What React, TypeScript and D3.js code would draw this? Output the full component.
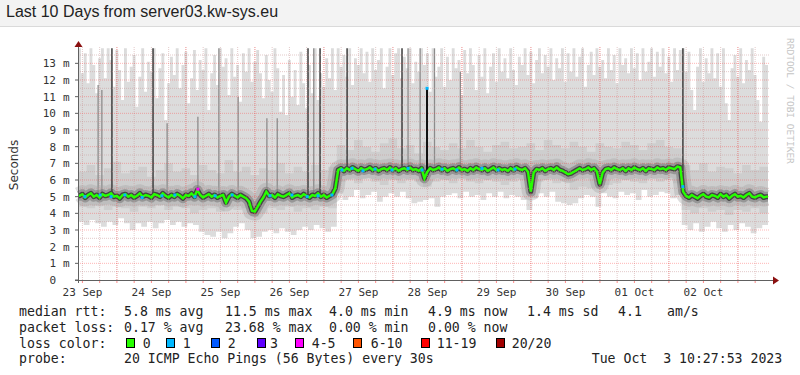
import * as d3 from 'd3'

// SmokePing style 10 day latency graph: grey smoke bands, loss coloured median.

const START = new Date(2023, 8, 23, 10, 27, 53)
const HOURS = 240
const END = d3.timeHour.offset(START, HOURS)

// median rtt in ms, one value per hour
const medianStep = 1
const medianMs = [
  5.05, 5.15, 4.95, 5.1, 5.2, 5.0, 5.1, 4.95, 5.15, 5.05,
  5.1, 5.2, 5.0, 5.05, 4.9, 5.1, 5.15, 5.0, 5.1, 4.95,
  5.05, 5.2, 5.0, 5.1, 5.05, 4.95, 5.15, 5.1, 5.0, 5.2,
  5.05, 4.95, 5.1, 5.0, 5.15, 5.05, 4.9, 5.1, 5.05, 5.2,
  5.0, 5.4, 5.1, 4.95, 5.05, 5.15, 5.0, 5.1, 4.95, 5.05,
  5.1, 4.65, 5.0, 5.15, 5.05, 4.95, 5.1, 5.0, 4.9, 4.7,
  4.15, 4.1, 4.4, 4.7, 4.95, 5.3, 5.05, 5.1, 4.95, 5.15,
  5.05, 5.0, 5.1, 5.2, 4.95, 5.05, 5.1, 5.0, 5.15, 5.05,
  4.95, 5.1, 5.05, 5.2, 5.0, 5.1, 4.95, 5.05, 5.15, 5.5,
  6.6, 6.7, 6.55, 6.7, 6.6, 6.75, 6.65, 6.55, 6.7, 6.6,
  6.65, 6.75, 6.6, 6.7, 6.55, 6.65, 6.7, 6.6, 6.75, 6.6,
  6.7, 6.55, 6.65, 6.7, 6.6, 6.75, 6.6, 6.65, 6.55, 6.7,
  6.1, 6.5, 6.7, 6.6, 6.65, 6.75, 6.6, 6.7, 6.55, 6.65,
  6.7, 6.6, 6.75, 6.6, 6.65, 6.55, 6.7, 6.6, 6.75, 6.65,
  6.6, 6.7, 6.55, 6.65, 6.75, 6.6, 6.7, 6.6, 6.65, 6.55,
  6.7, 6.6, 6.75, 6.65, 6.6, 6.7, 6.5, 5.3, 6.45, 6.65,
  6.6, 6.7, 6.55, 6.65, 6.7, 6.6, 6.75, 6.6, 6.55, 6.45,
  6.35, 6.4, 6.5, 6.6, 6.7, 6.6, 6.65, 6.75, 6.6, 6.7,
  6.5, 5.75, 6.45, 6.65, 6.7, 6.6, 6.75, 6.65, 6.6, 6.7,
  6.55, 6.7, 6.6, 6.75, 6.65, 6.6, 6.7, 6.55, 6.7, 6.65,
  6.6, 6.75, 6.65, 6.7, 6.6, 6.75, 6.7, 6.65, 6.8, 6.75,
  5.3, 5.05, 4.95, 5.1, 5.0, 4.9, 5.05, 5.15, 5.0, 4.95,
  5.1, 5.05, 4.95, 5.15, 5.0, 5.1, 4.9, 5.05, 5.15, 5.0,
  5.05, 4.95, 5.1, 5.2, 5.0, 4.95, 5.05, 5.1, 4.95, 5.0,
]

// fastest ping per 2 h
const minStep = 2
const pingMin = [
  3.5, 3.3, 3.6, 3.4, 3.2, 3.5, 3.3, 3.7, 3.4, 3.0,
  3.4, 3.2, 3.5, 3.1, 3.4, 3.6, 3.3, 3.5, 3.2, 3.4,
  3.3, 2.9, 2.7, 2.6, 2.9, 2.5, 2.8, 3.2, 3.4, 3.0,
  2.5, 2.6, 2.9, 3.0, 2.8, 3.1, 2.9, 2.7, 3.0, 3.2,
  3.0, 3.3, 3.1, 2.9, 3.2,
  5.2, 4.8, 5.0, 5.4, 4.9, 5.1, 5.3, 4.7, 5.0, 5.2,
  5.0, 5.3, 4.9, 4.6, 4.7, 4.8, 4.9, 4.4, 5.0, 5.1,
  5.2, 4.9, 5.3, 5.0, 5.1, 4.8, 5.2, 5.0, 5.3, 4.9,
  5.1, 5.0, 4.8, 4.2, 4.9, 5.2, 5.0, 5.3, 4.7, 4.6,
  4.5, 4.6, 4.9, 5.1, 5.0, 4.4, 5.2, 5.0, 4.9, 5.3,
  5.1, 5.2, 4.8, 5.4, 5.0, 5.1, 5.3, 5.2, 4.9, 5.1,
  3.3, 3.0, 3.4, 2.9, 3.2, 3.5, 3.1, 2.9, 3.3, 3.0, 3.4, 3.2, 2.8, 3.1, 3.3,
]

// slowest ping per hour
const maxStep = 1
const pingMax = [
  13.9, 12.4, 13.6, 11.8, 13.9, 12.9, 11.2, 13.3, 13.9, 12.1,
  13.9, 13.2, 11.6, 13.8, 12.6, 10.8, 13.9, 11.9, 12.8, 13.5,
  10.4, 12.2, 13.9, 11.3, 13.1, 12.5, 13.9, 10.9, 12.7, 13.6,
  9.6, 11.8, 13.4, 12.3, 13.9, 11.5, 12.9, 13.7, 10.6, 12.1,
  13.8, 11.4, 13.2, 12.6, 13.9, 10.2, 12.4, 13.5, 11.7, 13.9,
  12.8, 13.3, 11.1, 13.9, 12.2, 12.9, 10.7, 13.6, 12.5, 13.9,
  11.9, 13.1, 13.8, 12.4, 10.9, 13.5, 12.0, 11.3, 13.9, 12.7,
  10.1, 12.3, 9.9, 13.2, 11.0, 12.6, 10.5, 13.7, 11.8, 10.3,
  12.9, 11.2, 13.9, 10.8, 12.4, 11.6, 13.3, 12.1, 13.9, 11.4,
  13.9, 12.8, 13.5, 12.2, 13.9, 11.7, 13.3, 12.9, 13.9, 12.4,
  13.7, 11.9, 13.9, 12.6, 13.2, 13.9, 11.5, 12.8, 13.9, 12.3,
  13.6, 13.9, 12.1, 13.4, 12.7, 13.9, 11.8, 13.1, 12.5, 13.9,
  12.9, 13.6, 11.3, 13.9, 12.2, 12.8, 13.9, 11.6, 13.4, 12.0,
  13.9, 12.7, 13.2, 11.1, 13.8, 12.4, 13.9, 12.9, 11.4, 13.5,
  12.2, 13.9, 11.2, 12.8, 13.6, 11.9, 13.9, 12.5, 13.3, 12.1,
  13.9, 12.6, 11.7, 13.4, 12.9, 13.9, 12.3, 13.7, 11.8, 13.2,
  13.9, 12.4, 13.5, 12.8, 13.9, 12.0, 13.3, 12.7, 13.9, 11.9,
  13.6, 12.5, 13.9, 12.2, 13.4, 13.9, 11.6, 12.9, 13.7, 12.3,
  13.9, 12.8, 13.2, 12.1, 13.9, 12.6, 13.5, 11.8, 13.9, 12.9,
  13.3, 12.4, 13.9, 12.7, 13.6, 12.0, 13.9, 12.5, 13.1, 13.9,
  12.2, 13.7, 12.8, 13.9, 12.4, 13.4, 11.9, 13.9, 12.6, 13.8,
  13.9, 12.5, 13.7, 11.4, 10.2, 12.8, 13.9, 11.9, 13.3, 12.4,
  13.9, 12.1, 13.6, 11.6, 13.9, 10.6, 9.6, 12.7, 13.5, 12.2,
  13.9, 11.8, 13.2, 12.6, 13.9, 12.3, 10.8, 9.5, 13.4, 12.9,
]

// inner smoke (10th / 90th ping) every 3 h
const bandStep = 3
const pingP90 = [
  6.5, 6.9, 6.3, 6.7, 7.1, 6.4, 6.6, 6.8, 6.2, 6.6, 7.0, 6.5, 6.7, 6.3, 6.9,
  6.6, 6.4, 7.2, 6.5, 6.8, 6.3, 6.7, 6.6, 7.0, 6.4, 6.8, 6.5, 6.9, 6.6, 6.8,
  8.1, 7.8, 8.4, 8.0, 7.7, 8.2, 8.5, 7.9, 8.1, 7.6, 8.3, 8.0, 7.8, 8.2, 7.9,
  8.4, 8.0, 7.7, 8.1, 8.3, 7.9, 8.0, 8.2, 7.8, 8.4, 8.1, 7.9, 8.3, 8.0, 7.7,
  8.2, 8.0, 7.9, 8.3, 8.1, 7.8, 8.2, 8.4, 8.0, 7.9,
  6.9, 6.6, 7.0, 6.5, 6.8, 6.7, 6.4, 6.9, 6.6, 6.8,
]
const pingP10 = [
  4.4, 4.3, 4.5, 4.2, 4.4, 4.3, 4.1, 4.4, 4.3, 4.5, 4.2, 4.4, 4.3, 4.0, 4.2,
  4.3, 4.1, 4.4, 4.2, 4.3, 3.8, 4.0, 4.3, 4.2, 4.4, 4.1, 4.3, 4.2, 4.4, 4.3,
  5.9, 6.0, 5.8, 6.1, 5.9, 5.7, 6.0, 5.8, 6.0, 5.9, 5.6, 5.9, 6.0, 5.8, 6.1,
  5.9, 5.8, 6.0, 5.9, 5.7, 5.9, 6.0, 5.8, 5.9, 6.0, 5.8, 5.9, 5.4, 5.6, 5.5,
  5.9, 5.7, 5.8, 6.0, 5.9, 5.8, 6.1, 5.9, 6.0, 5.8,
  4.2, 4.0, 4.3, 4.1, 4.2, 3.9, 4.2, 4.1, 4.3, 4.0,
]

// burst columns where most pings were slow (hour offset, top in ms)
const darkSpikeHours = [11.8, 26.1, 80.0, 84.2, 93.6, 112.7, 210.4]
const darkSpikeTops = [13.9, 13.9, 13.9, 13.9, 13.9, 13.9, 13.9]
const paleSpikeHours = [7.0, 8.3, 31.0, 41.7, 49.0, 55.7, 65.7, 69.3, 82.0, 114.8, 119.0, 124.0, 133.0]
const paleSpikeTops = [11.7, 11.4, 9.4, 9.8, 13.9, 11.0, 9.7, 9.7, 13.9, 13.9, 13.9, 13.9, 12.5]

// single median outlier
const peakHour = 121.4
const peakMs = 11.5

// medians with lost packets
const lossHours = [
  2.4, 7.7, 11.5, 16.3, 22.3, 29.2, 33.7, 40.7, 41.7, 47.7, 53.6, 66.8, 74.4, 79.7, 83.5,
  88.3, 91.8, 95.3, 99.1, 103.3, 109.2, 114.8, 119.7, 121.4, 126.6, 131.8, 140.5, 146.1, 152.0, 210.4,
]
const lossValues = [
  5.0, 5.1, 5.0, 5.1, 4.95, 5.05, 5.1, 5.0, 5.45, 5.05, 5.1, 5.05, 5.1, 5.0, 5.05,
  5.1, 6.6, 6.7, 6.55, 6.65, 6.6, 6.7, 6.6, 11.5, 6.65, 6.6, 6.7, 6.6, 6.65, 5.6,
]
const lossCounts = [
  1, 1, 1, 1, 1, 1, 1, 1, 4, 1, 1, 1, 1, 1, 1,
  1, 1, 1, 1, 1, 1, 1, 1, 1, 1, 1, 1, 1, 1, 1,
]

const lossLabels = ['0', '1', '2', '3', '4-5', '6-10', '11-19', '20/20']
const lossColors = ['#26ff00', '#00b8ff', '#0059ff', '#5e00ff', '#ff00ff', '#ff5500', '#ff0000', '#a10000']
const lossFloors = [0, 1, 2, 3, 4, 6, 11, 20]

const yTicks = [0, 1, 2, 3, 4, 5, 6, 7, 8, 9, 10, 11, 12, 13]

const rttStats = ['5.8 ms avg', '11.5 ms max', '4.0 ms min', '4.9 ms now', '1.4 ms sd', '4.1', 'am/s']
const lossStats = ['0.17 % avg', '23.68 % max', '0.00 % min', '0.00 % now']
const probeText = '20 ICMP Echo Pings (56 Bytes) every 30s'
const stampText = 'Tue Oct  3 10:27:53 2023'
const titleText = 'Last 10 Days from server03.kw-sys.eu'

const MONO = '"DejaVu Sans Mono", monospace'
const SANS = '"DejaVu Sans", sans-serif'

function lossColor(n: number) {
  let c = lossColors[0]
  lossFloors.forEach((f, i) => {
    if (n >= f) c = lossColors[i]
  })
  return c
}

type Pt = [number, number, number]

function stepPoints(n: number, step: number, lo: (i: number) => number, hi: (i: number) => number): Pt[] {
  const pts: Pt[] = d3.range(n).map((i) => [i * step, lo(i), hi(i)])
  pts.push([n * step, lo(n - 1), hi(n - 1)])
  return pts
}

export default function App() {
  const m = { left: 78, right: 768, top: 46.67, bottom: 280 }
  const x = d3.scaleLinear().domain([0, HOURS]).range([m.left, m.right])
  const y = d3.scaleLinear().domain([0, 14]).range([m.bottom, m.top])
  const hOf = (d: Date) => (+d - +START) / 3.6e6

  const area = d3
    .area<Pt>()
    .x((d) => x(d[0]))
    .y0((d) => y(d[1]))
    .y1((d) => y(d[2]))
    .curve(d3.curveStepAfter)

  const outer = stepPoints(
    pingMax.length,
    maxStep,
    (i) => pingMin[Math.min(pingMin.length - 1, Math.floor((i * maxStep) / minStep))],
    (i) => pingMax[i],
  )
  const inner = stepPoints(pingP10.length, bandStep, (i) => pingP10[i], (i) => pingP90[i])

  // median drawn through the middle of each bucket
  const medPts: [number, number][] = medianMs.map((v, i) => [i * medianStep + medianStep / 2, v])
  medPts.unshift([0, medianMs[0]])
  medPts.push([HOURS, medianMs[medianMs.length - 1]])
  const medLine = d3
    .line<[number, number]>()
    .x((d) => x(d[0]))
    .y((d) => y(d[1]))(medPts) as string

  const medAt = (h: number) => medianMs[Math.min(medianMs.length - 1, Math.floor(h / medianStep))]

  const minor = d3.timeHour.every(6)!.range(START, END)
  const major = d3.timeDay.range(START, END)
  const labelDays = d3.timeDay
    .range(d3.timeDay.floor(START), END)
    .map((d) => d3.timeHour.offset(d, 12))
    .filter((d) => d >= START && d <= END)
  const fmt = d3.timeFormat('%d %b')

  const gridMinor = 'rgba(200,150,150,0.5)'
  const gridMajor = 'rgba(255,60,60,0.38)'
  const axisCol = '#606060'
  const arrowCol = '#8b1010'
  const textCol = '#333'

  const row1 = [124, 225, 329, 428, 527, 618, 667]
  const boxX = [126, 166, 211, 257, 295, 353, 421, 496]
  const boxLabelX = [142.7, 182.7, 227.7, 270, 311.7, 370.7, 436.7, 511.7]

  return (
    <svg
      width={800}
      height={375}
      viewBox="0 0 800 375"
      style={{ position: 'absolute', left: 0, top: 0, background: '#fff' }}
    >
      <rect x={0} y={0} width={800} height={26} fill="#f3f3f3" />
      <line x1={0} x2={800} y1={26.5} y2={26.5} stroke="#dadada" />
      <text x={6} y={16.5} fontFamily='"Liberation Sans", Arial, sans-serif' fontSize={16} fill="#222">
        {titleText}
      </text>

      {/* smoke */}
      <path d={area(outer) as string} fill="#dcdcdc" />
      <path d={area(inner) as string} fill="#cecece" />
      {paleSpikeHours.map((h, i) => (
        <line key={'p' + i} x1={x(h)} x2={x(h)} y1={y(medAt(h))} y2={y(paleSpikeTops[i])} stroke="#8c8c8c" strokeWidth={1.3} />
      ))}
      <path d={medLine} fill="none" stroke="#a0a0a0" strokeOpacity={0.35} strokeWidth={18} strokeLinejoin="round" />
      <path d={medLine} fill="none" stroke="#6e6e6e" strokeOpacity={0.5} strokeWidth={10} strokeLinejoin="round" />
      <path d={medLine} fill="none" stroke="#2e2e2e" strokeOpacity={0.8} strokeWidth={5} strokeLinejoin="round" />
      {darkSpikeHours.map((h, i) => (
        <line key={'d' + i} x1={x(h)} x2={x(h)} y1={y(medAt(h))} y2={y(darkSpikeTops[i])} stroke="#474747" strokeWidth={1.6} />
      ))}

      {/* grid */}
      {yTicks.slice(1).map((t) => (
        <line key={'hm' + t} x1={m.left} x2={770} y1={y(t - 0.5)} y2={y(t - 0.5)} stroke={gridMinor} strokeDasharray="1 1" />
      ))}
      <line x1={m.left} x2={770} y1={y(13.5)} y2={y(13.5)} stroke={gridMinor} strokeDasharray="1 1" />
      {minor.map((d) => (
        <line key={'vm' + +d} x1={x(hOf(d))} x2={x(hOf(d))} y1={m.bottom} y2={m.top} stroke={gridMinor} strokeDasharray="1 1" />
      ))}
      {yTicks.slice(1).map((t) => (
        <line key={'hM' + t} x1={m.left} x2={770} y1={y(t)} y2={y(t)} stroke={gridMajor} strokeDasharray="1 1" />
      ))}
      {major.map((d) => (
        <line key={'vM' + +d} x1={x(hOf(d))} x2={x(hOf(d))} y1={m.bottom} y2={m.top} stroke={gridMajor} strokeDasharray="1 1" />
      ))}

      {/* median */}
      <line x1={x(peakHour)} x2={x(peakHour)} y1={y(medAt(peakHour))} y2={y(peakMs)} stroke="#111" strokeWidth={2} />
      <path d={medLine} fill="none" stroke={lossColors[0]} strokeWidth={2.4} />
      {lossHours.map((h, i) => (
        <rect key={'l' + i} x={x(h) - 1.5} y={y(lossValues[i]) - 1.5} width={3} height={3} fill={lossColor(lossCounts[i])} />
      ))}

      {/* axes */}
      {yTicks.map((t) => (
        <g key={'yt' + t}>
          <line x1={75} x2={78} y1={y(t)} y2={y(t)} stroke={axisCol} />
          <text x={56} y={y(t) + 4} textAnchor="end" fontFamily={MONO} fontSize={11} fill={textCol}>
            {t}
          </text>
          {t > 0 && (
            <text x={63} y={y(t) + 4} fontFamily={MONO} fontSize={11} fill={textCol}>
              m
            </text>
          )}
        </g>
      ))}
      {minor.map((d) => (
        <line key={'xt' + +d} x1={x(hOf(d))} x2={x(hOf(d))} y1={280} y2={283} stroke="rgba(255,60,60,0.6)" />
      ))}
      <line x1={78.5} x2={78.5} y1={283} y2={46} stroke={axisCol} />
      <path d="M74.5,47 L82.5,47 L78.5,41 Z" fill={arrowCol} />
      <line x1={75} x2={774} y1={280.5} y2={280.5} stroke={axisCol} />
      <path d="M773,276.5 L773,284.5 L779,280.5 Z" fill={arrowCol} />
      {labelDays.map((d) => (
        <text key={'xl' + +d} x={x(hOf(d))} y={296} textAnchor="middle" fontFamily={MONO} fontSize={11} fill={textCol}>
          {fmt(d)}
        </text>
      ))}
      <text
        x={17.5}
        y={165}
        textAnchor="middle"
        transform="rotate(-90, 17.5, 165)"
        fontFamily={SANS}
        fontSize={12}
        fill={textCol}
      >
        Seconds
      </text>
      <text x={787} y={38} transform="rotate(90, 787, 38)" fontFamily={MONO} fontSize={9.5} fill="#c4c4c4">
        RRDTOOL / TOBI OETIKER
      </text>

      {/* legend */}
      <g fontFamily={MONO} fontSize={13.2} fill="#222" style={{ whiteSpace: 'pre' }}>
        <text x={19} y={316}>median rtt:</text>
        {rttStats.map((s, i) => (
          <text key={'r' + i} x={row1[i]} y={316}>
            {s}
          </text>
        ))}
        <text x={19} y={332}>packet loss:</text>
        {lossStats.map((s, i) => (
          <text key={'s' + i} x={row1[i]} y={332}>
            {s}
          </text>
        ))}
        <text x={19} y={347.5}>loss color:</text>
        {lossLabels.map((s, i) => (
          <g key={'c' + i}>
            <rect x={boxX[i] + 0.5} y={338.5} width={8} height={9} fill={lossColors[i]} stroke="#000" />
            <text x={boxLabelX[i]} y={347.5}>
              {s}
            </text>
          </g>
        ))}
        <text x={19} y={363}>probe:</text>
        <text x={124} y={363}>
          {probeText}
        </text>
        <text x={591.7} y={363} xmlSpace="preserve">
          {stampText}
        </text>
      </g>
    </svg>
  )
}
